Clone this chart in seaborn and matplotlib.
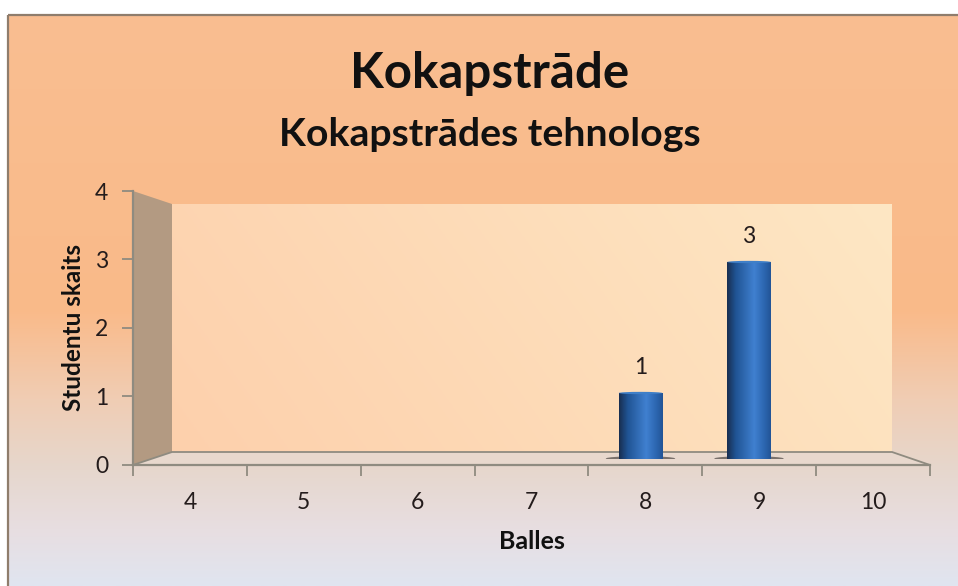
import numpy as np
import matplotlib
matplotlib.use("Agg")
import matplotlib.pyplot as plt
from matplotlib.patches import Polygon, Rectangle, Ellipse
import seaborn as sns

balles = ["4", "5", "6", "7", "8", "9", "10"]
studenti = [0, 0, 0, 0, 1, 3, 0]
y_ticks = [0, 1, 2, 3, 4]
title_main = "Kokapstrāde"
title_sub = "Kokapstrādes tehnologs"
x_label = "Balles"
y_label = "Studentu skaits"

sns.set_style("white")
plt.rcParams["font.family"] = ["Lato", "DejaVu Sans"]

W, H = 958, 586
fig = plt.figure(figsize=(W / 100, H / 100), dpi=100, facecolor="white")


def axes_px(x0, x1, y_top, y_bot):
    return fig.add_axes([x0 / W, 1 - y_bot / H, (x1 - x0) / W, (y_bot - y_top) / H])


def ramp(stops, n=256):
    pos = np.array([s[0] for s in stops], float)
    cols = np.array([s[1] for s in stops], float) / 255
    t = np.linspace(pos[0], pos[-1], n)
    return np.stack([np.interp(t, pos, cols[:, i]) for i in range(3)], axis=-1)


TEXT = "#241c1c"
LINE = "#8f8b80"

# canvas in pixel coordinates
bg = axes_px(0, W, 0, H)
bg.set_xlim(0, W)
bg.set_ylim(H, 0)
bg.axis("off")

back = ramp([(15, (249, 190, 145)), (310, (250, 186, 137)), (400, (240, 205, 180)),
             (470, (230, 215, 205)), (530, (232, 222, 225)), (586, (224, 229, 240))])
bg.imshow(back[:, None, :], extent=(9, W, 586, 15), aspect="auto", zorder=1)
bg.add_patch(Rectangle((8.5, 14.5), W, H, fill=False, ec="#8f7d6c", lw=1.6, zorder=2))

# back wall: diagonal ramp
u, v = np.meshgrid(np.linspace(0, 1, 200), np.linspace(0, 1, 100))
mix = ((u + (1 - v) * 0.25) / 1.25)[..., None]
wall = (np.array([253, 208, 172]) * (1 - mix) + np.array([254, 231, 196]) * mix) / 255
bg.imshow(wall, extent=(172, 892, 452, 204), aspect="auto", zorder=3)

# side wall and floor
bg.add_patch(Polygon([(133, 191), (172, 204), (172, 452), (133, 465)], fc="#b39a82", ec="none", zorder=3))
bg.add_patch(Polygon([(133, 465), (172, 452), (892, 452), (930, 465)], fc="#e8d8cd", ec="none", zorder=3))
bg.plot([133, 172, 892, 930], [465, 452, 452, 465], color=LINE, lw=1.3, zorder=4)
bg.set_xlim(0, W)
bg.set_ylim(H, 0)

# frame axis with ticks and labels
ax = axes_px(133, 930, 191, 464.5)
ax.patch.set_alpha(0)
ax.set_xlim(-0.5, len(balles) - 0.5)
ax.set_ylim(0, 4)
ax.set_xticks(range(len(balles)), balles)
ax.set_xticks(np.arange(len(balles) + 1) - 0.5, minor=True)
ax.set_yticks(y_ticks)
ax.tick_params(axis="x", which="major", length=0, pad=20, labelsize=16.5, labelcolor=TEXT)
ax.tick_params(axis="x", which="minor", length=8, width=1.3, color=LINE, bottom=True)
ax.tick_params(axis="y", length=8, width=1.3, color=LINE, left=True, pad=10, labelsize=16.5, labelcolor=TEXT)
for s in ("top", "right"):
    ax.spines[s].set_visible(False)
for s in ("left", "bottom"):
    ax.spines[s].set_color(LINE)
    ax.spines[s].set_linewidth(1.6)

# bars, on the perspective-shifted plane
bx = axes_px(152.25, 911.75, 196.5, 458.5)
bx.patch.set_alpha(0)
sns.barplot(x=balles, y=studenti, order=balles, width=0.4, color="#2f69ad", saturation=1,
            linewidth=0, ax=bx, zorder=3)
labels = [str(v) if v else "" for v in studenti]
bx.bar_label(bx.containers[0], labels=labels, padding=11, fontsize=16.5, color=TEXT)
blue = ramp([(0, (24, 46, 80)), (0.2, (32, 84, 148)), (0.62, (64, 128, 208)), (0.85, (44, 102, 176)), (1, (34, 84, 150))])
for p in list(bx.patches):
    h = p.get_height()
    if h <= 0:
        continue
    x, w = p.get_x(), p.get_width()
    c = x + w / 2
    bx.add_patch(Ellipse((c, 0), w * 1.6, 0.07, fc="#5f5853", ec="none", alpha=0.8, zorder=2))
    bx.add_patch(Ellipse((c, 0), w, 0.05, fc="#2a5f9e", ec="none", zorder=2.5))
    im = bx.imshow(blue[None, :, :], extent=(x, x + w, 0, h), aspect="auto", zorder=3.5)
    im.set_clip_path(p)
    bx.add_patch(Ellipse((c, h), w, 0.035, fc="#3f7fc8", ec="none", zorder=4))
bx.set_xlim(-0.5, len(balles) - 0.5)
bx.set_ylim(0, 4)
bx.axis("off")

# texts
bg.text(490, 74, title_main, ha="center", va="center", fontsize=35.5, fontweight="bold", color="#111111", zorder=6)
bg.text(490, 134, title_sub, ha="center", va="center", fontsize=28.3, fontweight="bold", color="#111111", zorder=6)
ax.set_xlabel(x_label, fontsize=18, fontweight="bold", color="#111111", labelpad=12)
ax.set_ylabel(y_label, fontsize=17.5, fontweight="bold", color="#111111", labelpad=7)

fig.savefig("out.png", dpi=100, facecolor="white")
